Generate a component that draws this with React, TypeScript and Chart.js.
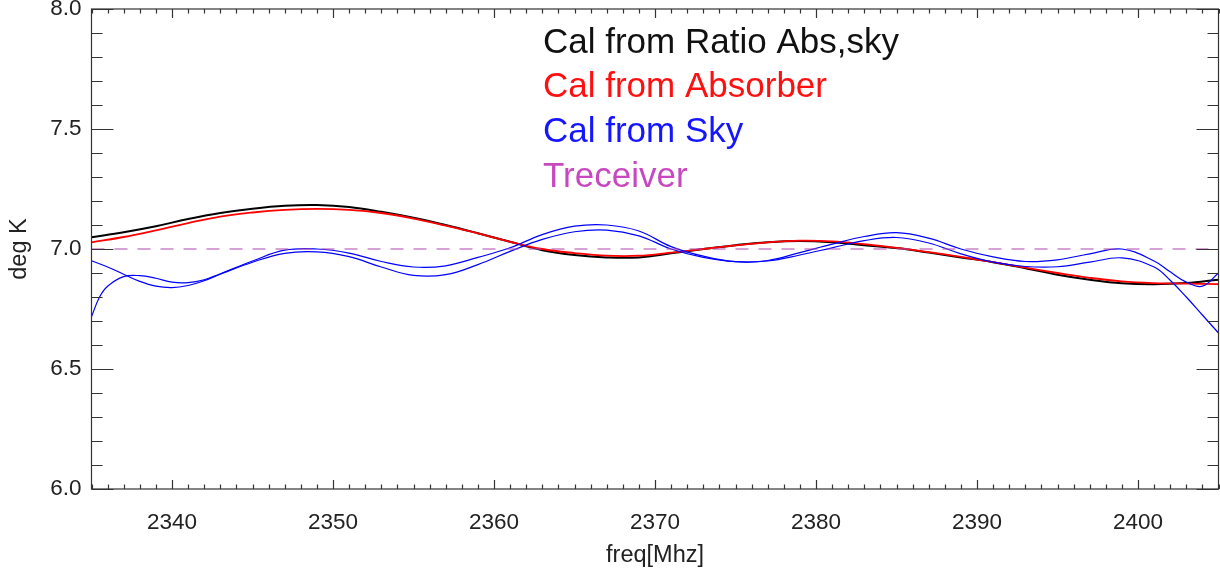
import { useEffect, useRef } from 'react';
import { Chart, registerables } from 'chart.js';

Chart.register(...registerables);

// ---- data ----
const freqMain = [2335, 2337, 2339, 2341, 2343, 2345, 2347, 2349, 2351, 2353, 2355, 2357, 2359, 2361, 2363, 2365, 2367, 2369, 2371, 2373, 2375, 2377, 2379, 2381, 2383, 2385, 2387, 2389, 2391, 2393, 2395, 2397, 2399, 2401, 2403, 2405];
const calRatioAbsSky = [7.049, 7.07, 7.095, 7.125, 7.15, 7.168, 7.18, 7.183, 7.175, 7.155, 7.13, 7.1, 7.066, 7.03, 6.995, 6.975, 6.965, 6.965, 6.982, 7.0, 7.016, 7.028, 7.033, 7.028, 7.016, 7.004, 6.985, 6.965, 6.945, 6.92, 6.893, 6.872, 6.857, 6.853, 6.858, 6.872];
const calAbsorber = [7.028, 7.05, 7.078, 7.108, 7.135, 7.152, 7.163, 7.167, 7.163, 7.15, 7.127, 7.097, 7.065, 7.03, 7.0, 6.983, 6.972, 6.972, 6.985, 7.0, 7.015, 7.028, 7.035, 7.032, 7.02, 7.005, 6.987, 6.967, 6.945, 6.922, 6.9, 6.88, 6.865, 6.858, 6.856, 6.854];

const freqSkyA = [2335, 2336, 2337, 2338, 2339, 2340, 2341, 2342, 2343, 2345, 2347, 2349, 2351, 2353, 2355, 2357, 2359, 2361, 2363, 2365, 2367, 2369, 2371, 2373, 2375, 2377, 2379, 2381, 2383, 2385, 2387, 2389, 2391, 2393, 2395, 2397, 2399, 2401, 2402, 2403, 2404, 2405];
const calSkyA = [6.951, 6.925, 6.895, 6.865, 6.845, 6.839, 6.848, 6.868, 6.895, 6.945, 6.982, 6.988, 6.968, 6.925, 6.89, 6.893, 6.935, 6.99, 7.04, 7.072, 7.079, 7.055, 7.0, 6.965, 6.947, 6.95, 6.975, 7.005, 7.035, 7.048, 7.025, 6.98, 6.945, 6.927, 6.926, 6.945, 6.963, 6.925, 6.87, 6.8, 6.725, 6.65];

const freqSkyB = [2335, 2335.5, 2336, 2337, 2338, 2339, 2340, 2341, 2342, 2343, 2345, 2347, 2349, 2351, 2353, 2355, 2357, 2359, 2361, 2363, 2365, 2367, 2369, 2371, 2373, 2375, 2377, 2379, 2381, 2383, 2385, 2387, 2389, 2391, 2393, 2395, 2397, 2399, 2401, 2402, 2403, 2404, 2405];
const calSkyB = [6.718, 6.8, 6.845, 6.885, 6.889, 6.878, 6.862, 6.86, 6.872, 6.897, 6.95, 6.995, 7.0, 6.983, 6.948, 6.925, 6.93, 6.965, 7.005, 7.06, 7.095, 7.1, 7.075, 7.01, 6.97, 6.947, 6.952, 6.985, 7.02, 7.052, 7.068, 7.045, 7.0, 6.967, 6.948, 6.955, 6.98, 7.0, 6.95, 6.905, 6.862, 6.845, 6.9];

const freqReceiver = [2335, 2405];
const tReceiver = [7.0, 7.0];

const xTickValues = [2340, 2350, 2360, 2370, 2380, 2390, 2400];
const yTickValues = [6.0, 6.5, 7.0, 7.5, 8.0];

const legendLabels = ['Cal from Ratio Abs,sky', 'Cal from Absorber', 'Cal from Sky', 'Treceiver'];
const legendColors = ['#111111', '#ff1010', '#1515ff', '#c848c0'];

const FONT = "'Liberation Sans', Arial, Helvetica, sans-serif";

const toPoints = (xs: number[], ys: number[]) => xs.map((x, i) => ({ x, y: ys[i] }));

const framePlugin = {
  id: 'idlFrame',
  afterDatasetsDraw(chart: any) {
    const { ctx, chartArea, scales } = chart;
    const { left, right, top, bottom } = chartArea;
    const xs = scales.x;
    const ys = scales.y;
    ctx.save();
    ctx.strokeStyle = '#333333';
    ctx.lineWidth = 1.2;
    ctx.strokeRect(left, top, right - left, bottom - top);
    ctx.beginPath();
    for (let f = Math.ceil(xs.min); f <= xs.max; f++) {
      const px = Math.round(xs.getPixelForValue(f)) + 0.5;
      const len = f % 10 === 0 ? 9 : 4.5;
      ctx.moveTo(px, bottom);
      ctx.lineTo(px, bottom - len);
      ctx.moveTo(px, top);
      ctx.lineTo(px, top + len);
    }
    for (let i = Math.round(ys.min * 10); i <= Math.round(ys.max * 10); i++) {
      const py = Math.round(ys.getPixelForValue(i / 10)) + 0.5;
      const len = i % 5 === 0 ? 22 : 11;
      ctx.moveTo(left, py);
      ctx.lineTo(left + len, py);
      ctx.moveTo(right, py);
      ctx.lineTo(right - len, py);
    }
    ctx.stroke();

    // legend text
    ctx.font = `35px ${FONT}`;
    ctx.textAlign = 'left';
    ctx.textBaseline = 'alphabetic';
    const lx = left + 451.5;
    const ly0 = top + 43.7;
    const dy = 44.6;
    legendLabels.forEach((t, i) => {
      ctx.fillStyle = legendColors[i];
      ctx.fillText(t, lx, ly0 + i * dy);
    });
    ctx.restore();
  },
};

export default function App() {
  const ref = useRef<HTMLCanvasElement | null>(null);

  useEffect(() => {
    if (!ref.current) return;
    Chart.defaults.font.family = FONT;
    const chart = new Chart(ref.current, {
      type: 'line',
      data: {
        datasets: [
          {
            label: 'Treceiver',
            data: toPoints(freqReceiver, tReceiver),
            borderColor: 'rgb(176,72,176)',
            borderWidth: 1.2,
            borderDash: [13, 10],
            pointRadius: 0,
            tension: 0,
          },
          {
            label: 'Cal from Sky',
            data: toPoints(freqSkyA, calSkyA),
            borderColor: '#0000ff',
            borderWidth: 1.2,
            pointRadius: 0,
            tension: 0.4,
          },
          {
            label: 'Cal from Sky (2)',
            data: toPoints(freqSkyB, calSkyB),
            borderColor: '#0000ff',
            borderWidth: 1.2,
            pointRadius: 0,
            tension: 0.4,
          },
          {
            label: 'Cal from Absorber',
            data: toPoints(freqMain, calAbsorber),
            borderColor: '#ff0000',
            borderWidth: 1.8,
            pointRadius: 0,
            tension: 0.4,
          },
          {
            label: 'Cal from Ratio Abs,sky',
            data: toPoints(freqMain, calRatioAbsSky),
            borderColor: '#000000',
            borderWidth: 2,
            pointRadius: 0,
            tension: 0.4,
          },
        ],
      },
      options: {
        responsive: false,
        animation: false,
        layout: { padding: { left: 0, right: 1.5, top: 9, bottom: 0 } },
        plugins: {
          legend: { display: false },
          tooltip: { enabled: false },
        },
        scales: {
          x: {
            type: 'linear',
            min: 2335,
            max: 2405,
            afterBuildTicks: (s: any) => {
              s.ticks = xTickValues.map((v) => ({ value: v }));
            },
            afterFit: (s: any) => {
              s.height = 86;
              s.paddingLeft = 0;
              s.paddingRight = 0;
            },
            grid: { display: false, drawTicks: false },
            border: { display: false },
            ticks: {
              autoSkip: false,
              maxRotation: 0,
              padding: 20,
              color: '#222222',
              font: { family: FONT, size: 22.5 },
              callback: (v: any) => String(v),
            },
            title: {
              display: true,
              text: 'freq[Mhz]',
              color: '#222222',
              font: { family: FONT, size: 23.5 },
              padding: { top: 0, bottom: 5 },
            },
          },
          y: {
            type: 'linear',
            min: 6.0,
            max: 8.0,
            afterBuildTicks: (s: any) => {
              s.ticks = yTickValues.map((v) => ({ value: v }));
            },
            afterFit: (s: any) => {
              s.width = 91.5;
              s.paddingTop = 0;
              s.paddingBottom = 0;
            },
            grid: { display: false, drawTicks: false },
            border: { display: false },
            ticks: {
              padding: 10,
              color: '#222222',
              font: { family: FONT, size: 22.5 },
              callback: (v: any) => Number(v).toFixed(1),
            },
            title: {
              display: true,
              text: 'deg K',
              color: '#222222',
              font: { family: FONT, size: 23.5 },
              padding: { top: 5, bottom: 0 },
            },
          },
        },
      },
      plugins: [framePlugin],
    });
    return () => chart.destroy();
  }, []);

  return (
    <div style={{ position: 'absolute', left: 0, top: 0, width: 1220, height: 575, background: '#ffffff' }}>
      <canvas ref={ref} width={1220} height={575} />
    </div>
  );
}
